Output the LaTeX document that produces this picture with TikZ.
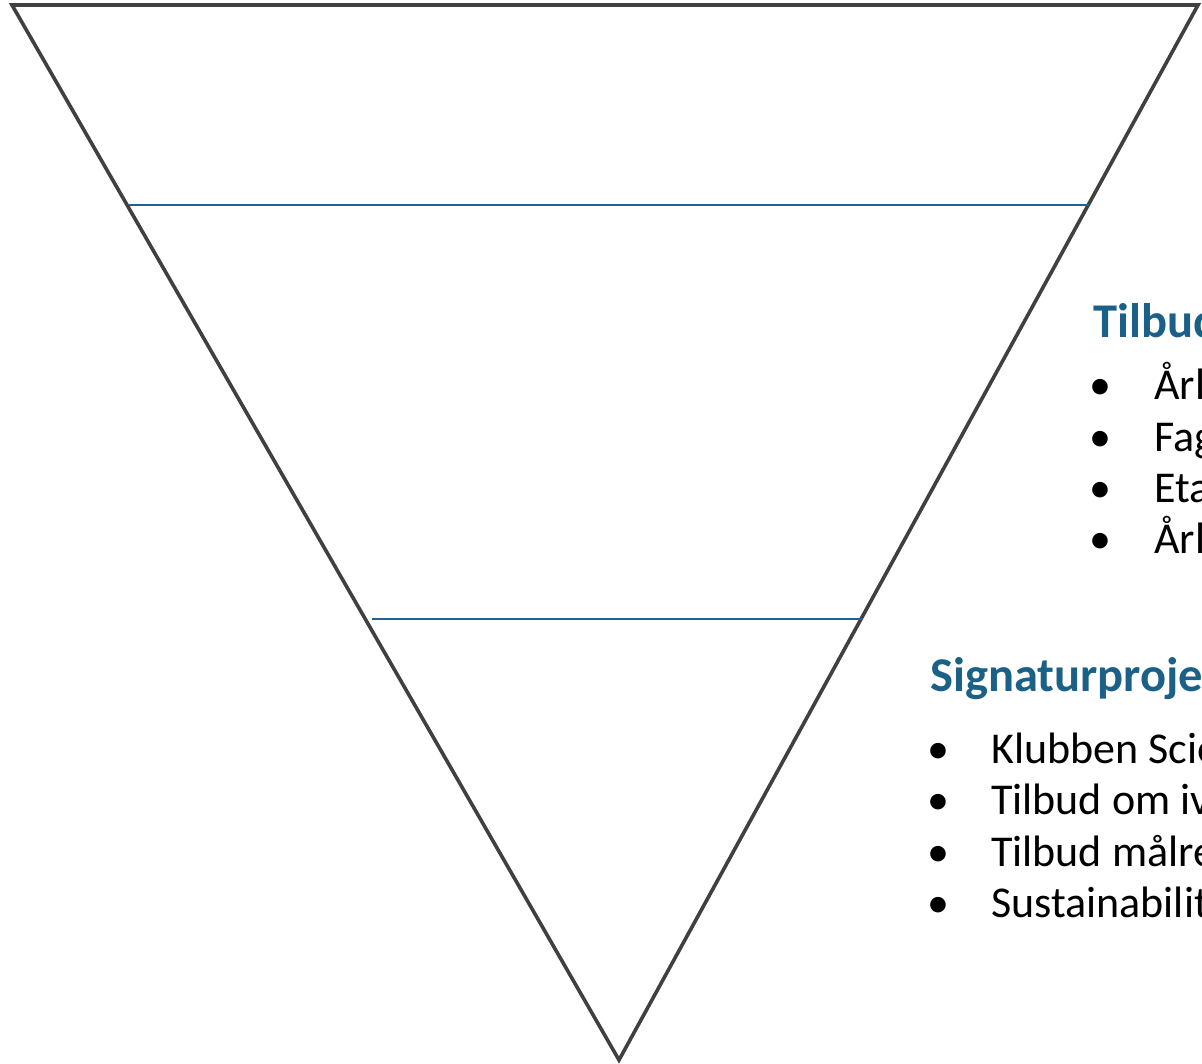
\documentclass[tikz,border=0pt]{standalone}
\usepackage{fontspec}
\setmainfont{Carlito}
\definecolor{edgegray}{HTML}{404040}
\definecolor{tierblue}{HTML}{1F6391}
\definecolor{headblue}{HTML}{1B6086}
\begin{document}
\begin{tikzpicture}[x=1pt,y=-1pt,
  funnel/.style={draw=edgegray,line width=3.6pt,line join=miter},
  tier/.style={draw=tierblue,line width=2.8pt},
  heading/.style={anchor=base west,inner sep=0pt,text=headblue,font=\fontsize{48.5}{58}\selectfont\bfseries},
  bulletdot/.style={anchor=base,inner sep=0pt,font=\fontsize{44}{53}\selectfont},
  itemtext/.style={anchor=base west,inner sep=0pt,font=\fontsize{44}{53}\selectfont}]
\useasboundingbox (0,0) rectangle (1202,1063);
\coordinate (tl) at (12,5);
\coordinate (tr) at (1198,5);
\coordinate (bot) at (619,1060);
\draw[funnel] (tl) -- (tr) -- (bot) -- cycle;
\coordinate (a1) at (129,205);
\coordinate (a2) at (1089,205);
\coordinate (b1) at (372,619);
\coordinate (b2) at (862,619);
\draw[tier] (a1) -- (a2);
\draw[tier] (b1) -- (b2);
% first list
\node[heading] (h1) at (1093,337) {Tilbud};
\foreach \yy/\txt [count=\i] in {399/Årl, 451/Fag, 502/Eta, 553/Årl}{
  \node[bulletdot] (bA\i) at (1100,\yy) {•};
  \node[itemtext] (tA\i) at (1154,\yy) {\txt};
}
% second list
\node[heading] (h2) at (930,691) {Signaturproje};
\foreach \yy/\txt [count=\i] in {763/Klubben Scie, 814/Tilbud om iv, 866/Tilbud målre, 917/Sustainabilit}{
  \node[bulletdot] (bB\i) at (938,\yy) {•};
  \node[itemtext] (tB\i) at (991,\yy) {\txt};
}
\end{tikzpicture}
\end{document}
